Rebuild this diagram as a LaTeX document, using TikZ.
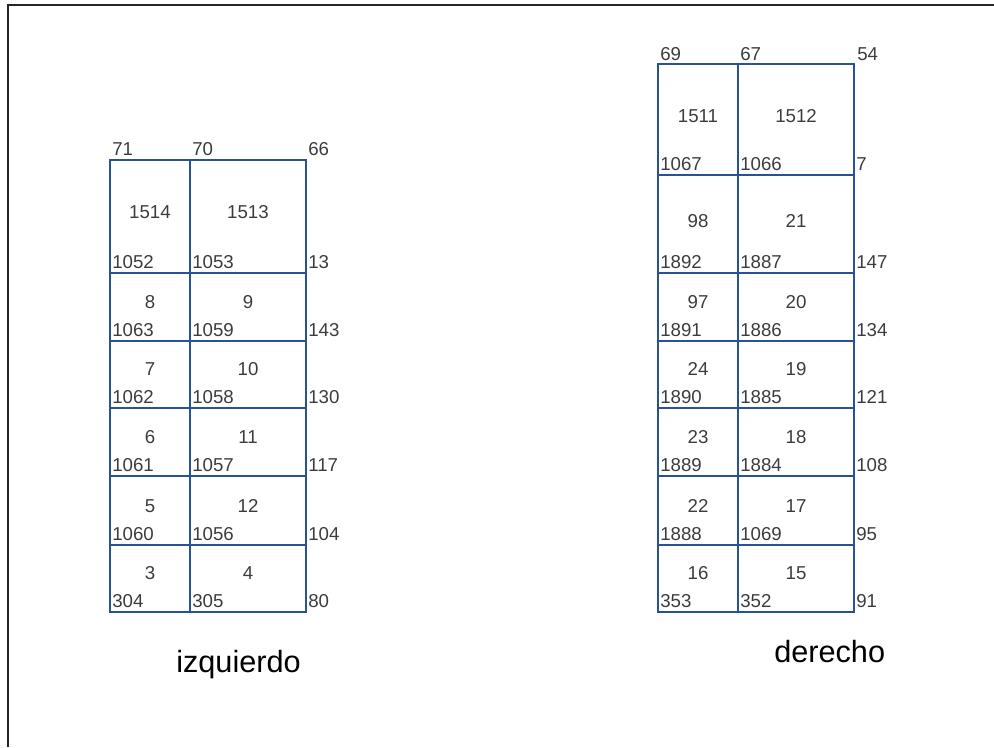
\documentclass[tikz,border=0pt]{standalone}
\usepackage{fontspec}
\setmainfont{Liberation Sans}
\definecolor{gridblue}{RGB}{40,82,150}
\definecolor{numgray}{RGB}{60,60,60}
\tikzset{
  gridline/.style={draw=gridblue, line width=1.5pt},
  frameline/.style={draw=black!85, line width=1.5pt},
  num/.style={inner sep=0pt, text=numgray, font=\fontsize{14}{16}\selectfont},
  corner/.style={num, anchor=base west},
  mid/.style={num, anchor=center},
  side/.style={inner sep=0pt, anchor=base west, text=black, font=\fontsize{23}{26}\selectfont}
}
\begin{document}
\begin{tikzpicture}[x=0.75pt, y=-0.75pt]
\useasboundingbox (0,0) rectangle (994,747);
% outer frame (left and top edges only)
\draw[frameline] (8,747) -- (8,5) -- (994,5);

% ---------- left grid ----------
\draw[gridline] (110,160) rectangle (306,612);
\draw[gridline] (190,160) -- (190,612);
\foreach \yy in {273,341,408,476,545} \draw[gridline] (110,\yy) -- (306,\yy);

\node[corner] (l71) at (112,155) {71};
\node[corner] (l70) at (192,155) {70};
\node[corner] (l66) at (308,155) {66};

\node[mid] (l1514) at (150,212) {1514};
\node[mid] (l1513) at (248,212) {1513};
\foreach \bot/\a/\b/\c/\d/\e [count=\i] in {
  273/1514/1513/1052/1053/13,
  341/8/9/1063/1059/143,
  408/7/10/1062/1058/130,
  476/6/11/1061/1057/117,
  545/5/12/1060/1056/104,
  612/3/4/304/305/80}{
  \ifnum\i>1
    \node[mid] (lc\i a) at (150,\bot-39) {\a};
    \node[mid] (lc\i b) at (248,\bot-39) {\b};
  \fi
  \node[corner] (lb\i a) at (112,\bot-5) {\c};
  \node[corner] (lb\i b) at (192,\bot-5) {\d};
  \node[corner] (lb\i c) at (308,\bot-5) {\e};
}
\node[side] (izq) at (176,672) {izquierdo};

% ---------- right grid ----------
\draw[gridline] (658,64) rectangle (854,612);
\draw[gridline] (738,64) -- (738,612);
\foreach \yy in {175,273,341,408,476,545} \draw[gridline] (658,\yy) -- (854,\yy);

\node[corner] (r69) at (660,60) {69};
\node[corner] (r67) at (740,60) {67};
\node[corner] (r54) at (857,60) {54};

\node[mid] (r1511) at (698,116) {1511};
\node[mid] (r1512) at (796,116) {1512};
\node[mid] (r98) at (698,221) {98};
\node[mid] (r21) at (796,221) {21};
\foreach \bot/\a/\b/\c/\d/\e [count=\i] in {
  175/1511/1512/1067/1066/7,
  273/98/21/1892/1887/147,
  341/97/20/1891/1886/134,
  408/24/19/1890/1885/121,
  476/23/18/1889/1884/108,
  545/22/17/1888/1069/95,
  612/16/15/353/352/91}{
  \ifnum\i>2
    \node[mid] (rc\i a) at (698,\bot-39) {\a};
    \node[mid] (rc\i b) at (796,\bot-39) {\b};
  \fi
  \node[corner] (rb\i a) at (660,\bot-5) {\c};
  \node[corner] (rb\i b) at (740,\bot-5) {\d};
  \node[corner] (rb\i c) at (856,\bot-5) {\e};
}
\node[side] (der) at (774,662) {derecho};
\end{tikzpicture}
\end{document}
